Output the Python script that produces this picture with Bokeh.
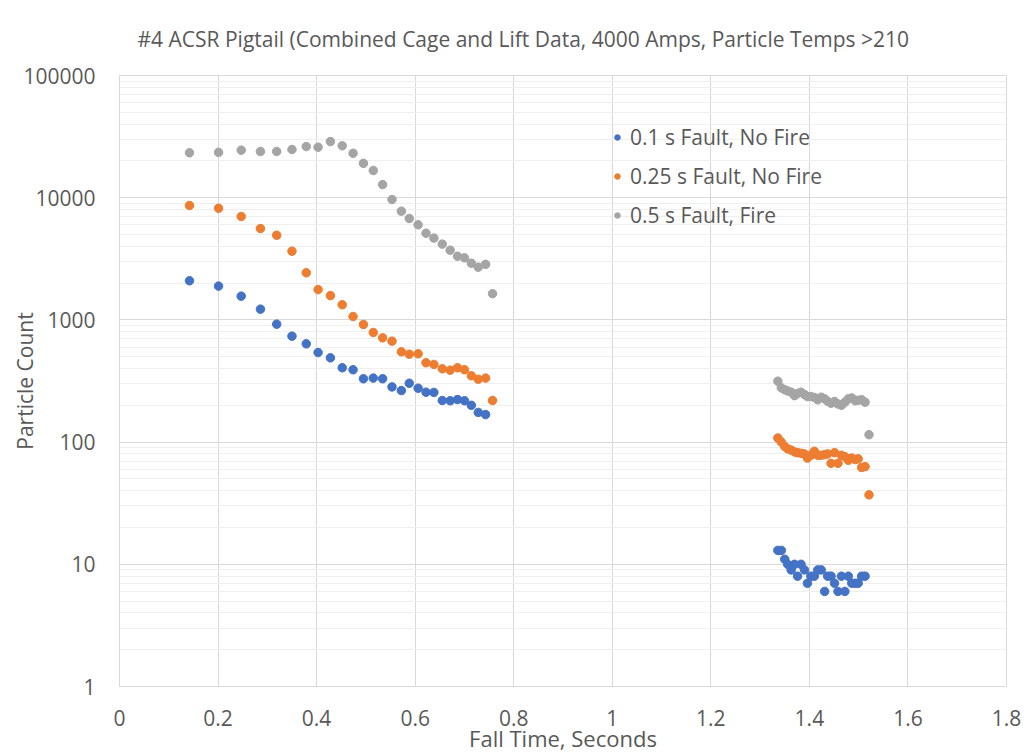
from bokeh.plotting import figure
from bokeh.models import Legend, LegendItem, FixedTicker, NumeralTickFormatter
from bokeh.embed import file_html
from bokeh.resources import INLINE

# ---------------- data ----------------
title_text = "#4 ACSR Pigtail (Combined Cage and Lift Data, 4000 Amps, Particle Temps >210"
x_label = "Fall Time, Seconds"
y_label = "Particle Count"
series_names = ["0.1 s Fault, No Fire", "0.25 s Fault, No Fire", "0.5 s Fault, Fire"]
series_colors = ["#4472C4", "#ED7D31", "#A5A5A5"]

x_tick_values = [0, 0.2, 0.4, 0.6, 0.8, 1, 1.2, 1.4, 1.6, 1.8]
x_tick_labels = ["0", "0.2", "0.4", "0.6", "0.8", "1", "1.2", "1.4", "1.6", "1.8"]
y_tick_values = [1, 10, 100, 1000, 10000, 100000]

time_early = [0.142, 0.201, 0.247, 0.286, 0.319, 0.350, 0.379, 0.403, 0.428, 0.452,
              0.474, 0.495, 0.515, 0.534, 0.553, 0.572, 0.588, 0.606, 0.622, 0.638,
              0.655, 0.671, 0.686, 0.700, 0.714, 0.728, 0.743, 0.757]
time_late = [1.336, 1.343, 1.350, 1.356, 1.363, 1.370, 1.376, 1.383, 1.390, 1.396,
             1.403, 1.410, 1.417, 1.424, 1.431, 1.437, 1.444, 1.451, 1.458, 1.465,
             1.472, 1.479, 1.486, 1.493, 1.499, 1.506, 1.513, 1.521]

fault01_early = [2090, 1890, 1565, 1225, 923, 736, 637, 541, 489, 406,
                 391, 330, 334, 330, 283, 264, 303, 276, 256, 255,
                 219, 218, 223, 218, 200, 175, 168]
fault01_late = [13, 13, 11, 10, 9, 10, 8, 10, 9, 7,
                8, 8, 9, 9, 6, 8, 8, 7, 6, 8,
                6, 8, 7, 7, 7, 8, 8]

fault025_early = [8630, 8200, 7020, 5590, 4930, 3650, 2430, 1770, 1580, 1330,
                  1066, 917, 789, 713, 670, 548, 524, 528, 446, 432,
                  398, 388, 406, 391, 349, 327, 334, 219]
fault025_late = [108, 100, 92, 88, 86, 83, 82, 81, 80, 74,
                 78, 84, 78, 78, 79, 80, 67, 82, 67, 78,
                 76, 71, 74, 72, 73, 62, 63, 37]

fault05_early = [23300, 23500, 24500, 23900, 23900, 24800, 26200, 25900, 28800, 26600,
                 23100, 19100, 16700, 12800, 9660, 7760, 6760, 6000, 5120, 4670,
                 4170, 3720, 3320, 3220, 2910, 2700, 2850, 1640]
fault05_late = [315, 278, 268, 262, 256, 240, 250, 256, 245, 236,
                236, 232, 222, 233, 226, 216, 208, 215, 205, 200,
                212, 226, 230, 218, 220, 222, 212, 115]

# ---------------- styling ----------------
FONT = "Open Sans"
TXT = "#595959"
GRID = "#d9d9d9"
MINOR = "#efefef"

p = figure(frame_width=887, frame_height=611,
           x_range=(0, 1.8), y_range=(1, 100000), y_axis_type="log",
           output_backend="svg", toolbar_location=None,
           min_border_left=119, min_border_right=24,
           min_border_top=75, min_border_bottom=60,
           background_fill_color="white", border_fill_color="white")

p.title.text = title_text
p.title.align = "left"
p.title.offset = 18
p.title.text_font = FONT
p.title.text_font_size = "21px"
p.title.text_font_style = "normal"
p.title.text_color = TXT
p.title.standoff = 45

p.outline_line_color = GRID

# x axis
xa = p.xaxis[0]
xa.ticker = FixedTicker(ticks=x_tick_values)
xa.major_label_overrides = {v: s for v, s in zip(x_tick_values, x_tick_labels)}
xa.axis_label = x_label
for ax in (p.xaxis[0], p.yaxis[0]):
    ax.axis_line_color = GRID
    ax.major_tick_line_color = None
    ax.minor_tick_line_color = None
    ax.major_tick_out = 0
    ax.major_tick_in = 0
    ax.minor_tick_out = 0
    ax.minor_tick_in = 0
    ax.major_label_text_font = FONT
    ax.major_label_text_font_size = "21px"
    ax.major_label_text_color = TXT
    ax.axis_label_text_font = FONT
    ax.axis_label_text_font_size = "21px"
    ax.axis_label_text_color = TXT
    ax.axis_label_text_font_style = "normal"
xa.axis_label_text_font_size = "22px"
xa.major_label_standoff = 23
xa.axis_label_standoff = -6

ya = p.yaxis[0]
minor = [m * d for d in [1, 10, 100, 1000, 10000] for m in range(2, 10)]
ya.ticker = FixedTicker(ticks=y_tick_values, minor_ticks=minor)
ya.formatter = NumeralTickFormatter(format="0")
ya.axis_label = y_label
ya.major_label_standoff = 24
ya.axis_label_standoff = -19

p.xgrid.ticker = FixedTicker(ticks=x_tick_values)
p.xgrid.grid_line_color = GRID
p.ygrid.grid_line_color = GRID
p.ygrid.minor_grid_line_color = MINOR

# ---------------- data glyphs ----------------
all_series = [
    (time_early[:len(fault01_early)] + time_late[:len(fault01_late)], fault01_early + fault01_late),
    (time_early + time_late, fault025_early + fault025_late),
    (time_early + time_late, fault05_early + fault05_late),
]
items = []
for (xs, ys), name, col in zip(all_series, series_names, series_colors):
    r = p.scatter(xs, ys, size=8.5, marker="circle", fill_color=col, line_color=col)
    items.append(LegendItem(label=name, renderers=[r]))

legend = Legend(items=items, location=(491, 457), orientation="vertical",
                background_fill_alpha=0, border_line_color=None,
                padding=0, margin=0, spacing=11,
                glyph_width=14, glyph_height=24, label_height=24,
                label_standoff=6,
                label_text_font=FONT, label_text_font_size="21px",
                label_text_color=TXT)
p.add_layout(legend)

open("out.html", "w").write(file_html(p, INLINE))
